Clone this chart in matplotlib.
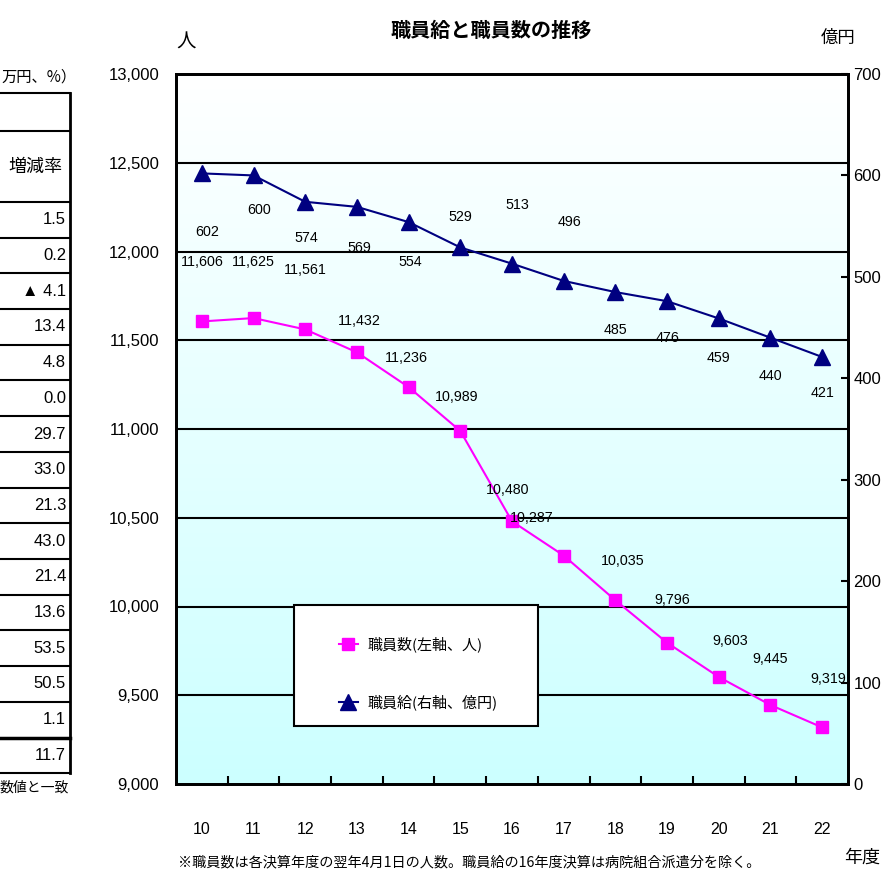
import matplotlib
matplotlib.use("Agg")
import matplotlib.pyplot as plt
import numpy as np
from matplotlib.patches import Rectangle
from matplotlib.lines import Line2D

JP = ['Noto Sans CJK JP', 'DejaVu Sans']
NUM = ['Liberation Sans', 'DejaVu Sans']
plt.rcParams['font.family'] = JP

# 年度
nendo = ['10', '11', '12', '13', '14', '15', '16', '17', '18', '19', '20', '21', '22']
# 職員数（人）
shokuinsu = [11606, 11625, 11561, 11432, 11236, 10989, 10480, 10287, 10035, 9796, 9603, 9445, 9319]
# 職員給（億円）
shokuinkyu = [602, 600, 574, 569, 554, 529, 513, 496, 485, 476, 459, 440, 421]
# 左側の表（増減率の列）
zogenritsu = ['1.5', '0.2', '▲ 4.1', '13.4', '4.8', '0.0', '29.7', '33.0', '21.3',
              '43.0', '21.4', '13.6', '53.5', '50.5', '1.1', '11.7']

# ラベルの位置ずらし（ピクセル）
kazu_off = [(0, 59), (0, 56), (0, 59), (2, 31), (-2, 29), (-4, 34), (-4, 31),
            (-32, 38), (7, 39), (5, 43), (11, 36), (0, 46), (6, 48)]
kyu_off = [(5, -59), (6, -35), (1, -36), (2, -41), (2, -40), (0, 30), (5, 59),
           (6, 59), (0, -38), (0, -37), (0, -40), (0, -38), (0, -36)]

W, H = 888, 877
fig = plt.figure(figsize=(W / 100, H / 100), dpi=100)


def fx(px):
    return px / W


def fy(py):
    return 1 - py / H


ax = fig.add_axes([fx(176), fy(784), fx(848) - fx(176), fy(74) - fy(784)])
ax2 = ax.twinx()

x = np.arange(len(nendo))
ax.set_xlim(-0.5, len(nendo) - 0.5)
ax.set_ylim(9000, 13000)
ax2.set_ylim(0, 700)

# 背景のグラデーション（上が白、下が水色）
grad = np.linspace(0, 1, 256).reshape(-1, 1)
top = np.array([1.0, 1.0, 1.0])
bot = np.array([0.80, 1.0, 1.0])
img = top + grad * (bot - top)
ax.imshow(img[:, None, :].repeat(2, axis=1), extent=[-0.5, len(nendo) - 0.5, 9000, 13000],
          aspect='auto', origin='upper', zorder=0)

# 横の目盛線
for yv in np.arange(9500, 13000, 500):
    ax.axhline(yv, color='black', lw=1.5, zorder=1)

ax.plot(x, shokuinsu, color='#FF00FF', lw=1.5, marker='s', ms=8, zorder=3,
        label='職員数(左軸、人)')
ax2.plot(x, shokuinkyu, color='#000080', lw=1.5, marker='^', ms=11, zorder=3,
         label='職員給(右軸、億円)')

for xi, v, (dx, dy) in zip(x, shokuinsu, kazu_off):
    ax.annotate(f'{v:,}', (xi, v), xytext=(dx, dy), textcoords='offset pixels',
                ha='center', va='center', fontsize=10.3, family=NUM, zorder=4)
for xi, v, (dx, dy) in zip(x, shokuinkyu, kyu_off):
    ax2.annotate(f'{v}', (xi, v), xytext=(dx, dy), textcoords='offset pixels',
                 ha='center', va='center', fontsize=10.3, family=NUM, zorder=4)

# 軸と目盛
for a in (ax, ax2):
    for s in a.spines.values():
        s.set_linewidth(2)
        s.set_color('black')

ax.set_yticks(np.arange(9000, 13001, 500))
ax.set_yticklabels([f'{v:,}' for v in range(9000, 13001, 500)], family=NUM, fontsize=12)
ax.tick_params(axis='y', length=0, pad=12)

ax2.set_yticks(np.arange(0, 701, 100))
ax2.set_yticklabels([str(v) for v in range(0, 701, 100)], family=NUM, fontsize=12)
ax2.tick_params(axis='y', direction='in', length=5, width=1.5, pad=4)

ax.set_xticks(x)
ax.set_xticklabels(nendo, family=NUM, fontsize=11.5)
ax.set_xticks(np.arange(0.5, len(nendo) - 1, 1), minor=True)
ax.tick_params(axis='x', which='major', length=0, pad=27)
ax.tick_params(axis='x', which='minor', direction='in', length=6, width=1.5)

# 凡例
fig.patches.append(Rectangle((fx(294), fy(726)), fx(538) - fx(294), fy(605) - fy(726),
                             transform=fig.transFigure, facecolor='white',
                             edgecolor='black', lw=1.5, zorder=5))
handles = [Line2D([], [], color='#FF00FF', lw=1.5, marker='s', ms=8),
           Line2D([], [], color='#000080', lw=1.5, marker='^', ms=11)]
leg = fig.legend(handles, ['職員数(左軸、人)', '職員給(右軸、億円)'],
                 loc='upper left', bbox_to_anchor=(fx(325), fy(623)),
                 frameon=False, fontsize=10.8, handlelength=1.3,
                 handletextpad=0.6, labelspacing=2.8)
leg.set_zorder(6)

# 見出し・注記
fig.text(fx(491), fy(30), '職員給と職員数の推移', ha='center', va='center',
         fontsize=14.5, fontweight='bold')
fig.text(fx(186), fy(42), '人', ha='center', va='center', fontsize=14)
fig.text(fx(838), fy(38), '億円', ha='center', va='center', fontsize=12.5)
fig.text(fx(862), fy(858), '年度', ha='center', va='center', fontsize=13)
fig.text(fx(178), fy(862), '※職員数は各決算年度の翌年4月1日の人数。職員給の16年度決算は病院組合派遣分を除く。',
         ha='left', va='center', fontsize=10.2)

# 左側の表（一部）
tbl_right = 70
fig.text(fx(1), fy(77), '万円、%）', ha='left', va='center', fontsize=11)
row_lines = [93, 131, 202] + [202 + 35.7 * (i + 1) for i in range(len(zogenritsu))]
for i, yl in enumerate(row_lines):
    lw = 2.5 if i == len(row_lines) - 2 else 1.5
    fig.add_artist(Line2D([0, fx(tbl_right)], [fy(yl), fy(yl)], color='black', lw=lw))
fig.add_artist(Line2D([fx(tbl_right), fx(tbl_right)], [fy(93), fy(row_lines[-1])],
                      color='black', lw=2))
fig.text(fx(35), fy(167), '増減率', ha='center', va='center', fontsize=13)
for i, t in enumerate(zogenritsu):
    yc = 202 + 35.7 * (i + 0.5)
    fig.text(fx(66), fy(yc), t, ha='right', va='center', fontsize=12, family=NUM)
fig.text(0, fy(788), '数値と一致', ha='left', va='center', fontsize=10)

fig.savefig('out.png', dpi=100)
